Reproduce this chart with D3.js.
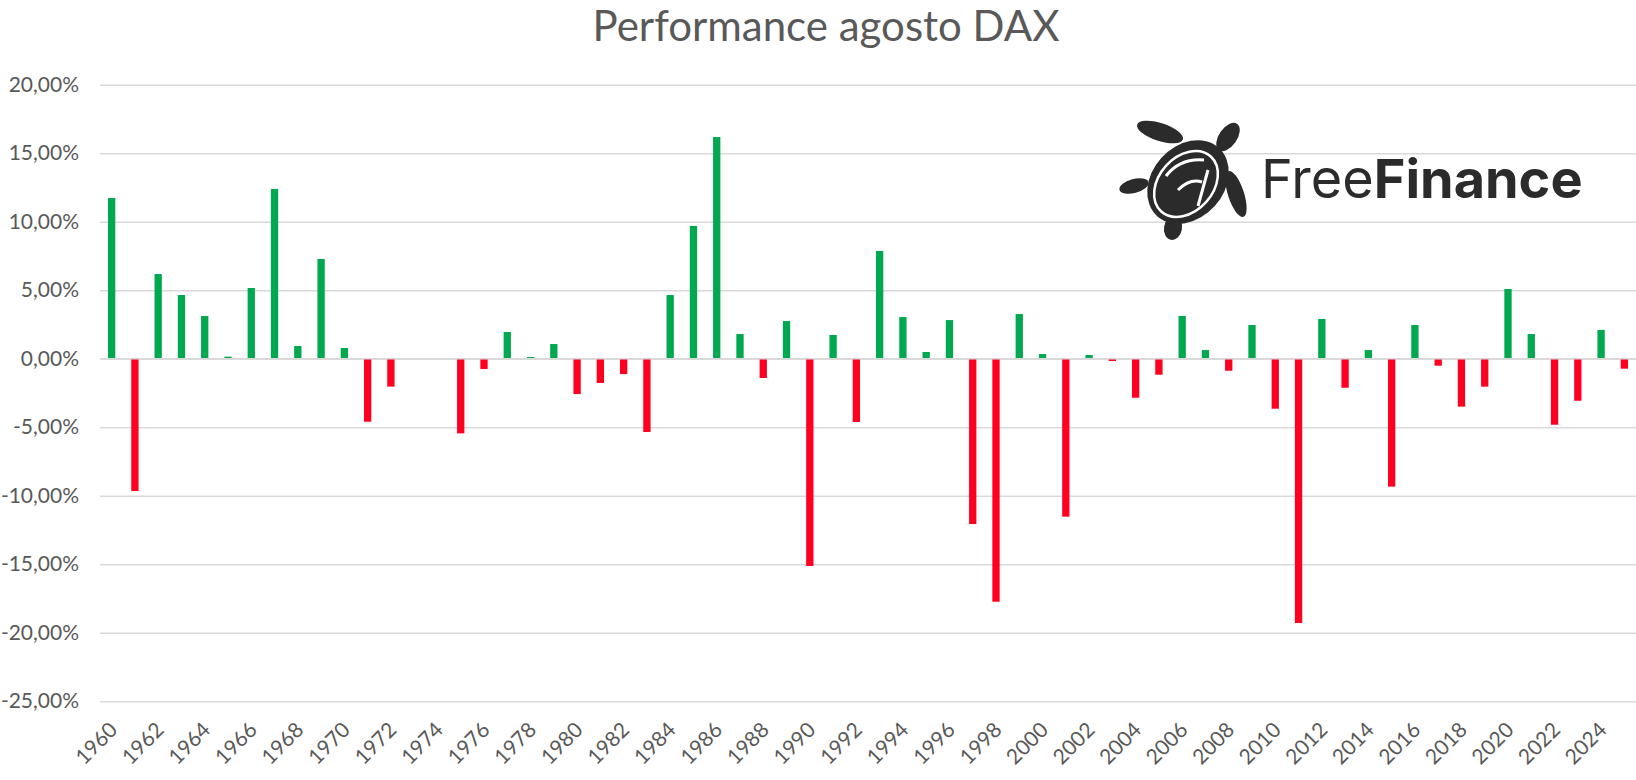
<!DOCTYPE html>
<html>
<head>
    <meta charset="utf-8">
    <script src="https://cdn.jsdelivr.net/npm/d3@7"></script>
    <style>
        body { margin: 0; background: #fff; }
        svg { display: block; }
    </style>
</head>
<body>
<svg id="chart" width="1636" height="780"></svg>
<script>
// August performance of the DAX, in percent
var years = d3.range(1960, 2026);
var values = [
    11.73, -9.66, 6.18, 4.65, 3.12, 0.15, 5.16, 12.39, 0.93, 7.28,
    0.78, -4.6, -2.04, null, null, -5.45, -0.75, 1.95, 0.12, 1.07,
    -2.58, -1.77, -1.12, -5.35, 4.65, 9.69, 16.18, 1.8, -1.41, 2.75,
    -15.13, 1.73, -4.62, 7.86, 3.04, 0.49, 2.82, -12.07, -17.74, 3.26,
    0.34, -11.53, 0.27, -0.17, -2.85, -1.17, 3.12, 0.63, -0.88, 2.46,
    -3.65, -19.29, 2.9, -2.12, 0.63, -9.34, 2.46, -0.51, -3.5, -2.04,
    5.09, 1.8, -4.82, -3.07, 2.1, -0.73
];
var yTicks = [20, 15, 10, 5, 0, -5, -10, -15, -20, -25];
var xLabelYears = years.filter(function(y) { return (y - 1960) % 2 === 0; });
var title = "Performance agosto DAX";

var svg = d3.select("#chart");
var plotLeft = 100, plotRight = 1636, plotTop = 84.7, plotBottom = 701.2;

var x = d3.scaleBand().domain(years).range([plotLeft, plotRight]).paddingInner(0.686).paddingOuter(0.343);
var y = d3.scaleLinear().domain([-25, 20]).range([plotBottom, plotTop]);

var itLocale = d3.formatLocale({ decimal: ",", thousands: ".", grouping: [3], currency: ["", " €"], minus: "-" });
var fmt = itLocale.format(".2f");

// title
svg.append("text")
    .attr("x", 826).attr("y", 41)
    .attr("text-anchor", "middle")
    .style("font-family", "Lato, sans-serif")
    .style("font-size", "42px")
    .style("fill", "#595959")
    .text(title);

// gridlines + y labels
var yAxis = svg.append("g")
    .attr("transform", "translate(" + plotLeft + ",0)")
    .call(d3.axisLeft(y).tickValues(yTicks).tickSize(-(plotRight - plotLeft)).tickPadding(21).tickFormat(function(d) { return fmt(d) + "%"; }));
yAxis.select(".domain").remove();
yAxis.selectAll(".tick line").style("stroke", "#d9d9d9").style("stroke-width", "1.4px");
yAxis.selectAll(".tick text")
    .style("font-family", "Lato, sans-serif")
    .style("font-size", "21px")
    .style("fill", "#595959");

// bars
svg.append("g").selectAll("rect")
    .data(years.map(function(yr, i) { return { year: yr, v: values[i] }; }).filter(function(d) { return d.v !== null; }))
    .enter()
    .append("rect")
    .attr("x", function(d) { return x(d.year); })
    .attr("width", x.bandwidth())
    .attr("y", function(d) { return y(Math.max(0, d.v)); })
    .attr("height", function(d) { return Math.abs(y(d.v) - y(0)); })
    .style("fill", function(d) { return d.v >= 0 ? "#00A94F" : "#FF0020"; });

// zero axis line on top of bars
svg.append("line")
    .attr("x1", plotLeft).attr("x2", plotRight)
    .attr("y1", y(0)).attr("y2", y(0))
    .style("stroke", "#d9d9d9").style("stroke-width", "1.4px");

// x labels, rotated
var xAxis = svg.append("g")
    .attr("transform", "translate(0," + plotBottom + ")")
    .call(d3.axisBottom(x).tickValues(xLabelYears).tickSize(0).tickPadding(0));
xAxis.select(".domain").remove();
xAxis.selectAll(".tick text")
    .attr("text-anchor", "end")
    .attr("dy", 0)
    .attr("transform", "translate(7,30) rotate(-45)")
    .style("font-family", "Lato, sans-serif")
    .style("font-size", "21px")
    .style("fill", "#595959");

// FreeFinance logo (simplified turtle + wordmark)
var logo = svg.append("g").attr("class", "logo");
var ink = "#2b2b2b";
var flippers = [
    { cx: 1160, cy: 132, rx: 24, ry: 9, rot: 18 },
    { cx: 1228, cy: 137, rx: 16, ry: 9, rot: -55 },
    { cx: 1134, cy: 186, rx: 15, ry: 7, rot: -15 },
    { cx: 1236, cy: 194, rx: 24, ry: 8, rot: 72 },
    { cx: 1173, cy: 228, rx: 9, ry: 12, rot: 10 }
];
logo.selectAll("ellipse.flip")
    .data(flippers)
    .enter()
    .append("ellipse")
    .attr("class", "flip")
    .attr("cx", function(d) { return d.cx; })
    .attr("cy", function(d) { return d.cy; })
    .attr("rx", function(d) { return d.rx; })
    .attr("ry", function(d) { return d.ry; })
    .attr("transform", function(d) { return "rotate(" + d.rot + "," + d.cx + "," + d.cy + ")"; })
    .style("fill", ink);
logo.append("ellipse")
    .attr("cx", 1188).attr("cy", 182).attr("rx", 46).attr("ry", 36)
    .attr("transform", "rotate(-48,1188,182)")
    .style("fill", ink);
logo.append("ellipse")
    .attr("cx", 1186).attr("cy", 184).attr("rx", 37).attr("ry", 27)
    .attr("transform", "rotate(-48,1186,184)")
    .style("fill", "none").style("stroke", "#fff").style("stroke-width", 2.5);
logo.append("path")
    .attr("d", "M1166,176 Q1180,158 1204,160 M1178,190 Q1190,178 1202,182 M1208,170 L1198,206")
    .style("fill", "none").style("stroke", "#fff").style("stroke-width", 3);

var word = svg.append("text")
    .attr("x", 1261).attr("y", 198)
    .style("font-family", "Inter, sans-serif")
    .style("font-size", "54px")
    .style("fill", ink);
word.append("tspan").style("font-weight", 400).text("Free");
word.append("tspan").style("font-weight", 700).text("Finance");
</script>
</body>
</html>
